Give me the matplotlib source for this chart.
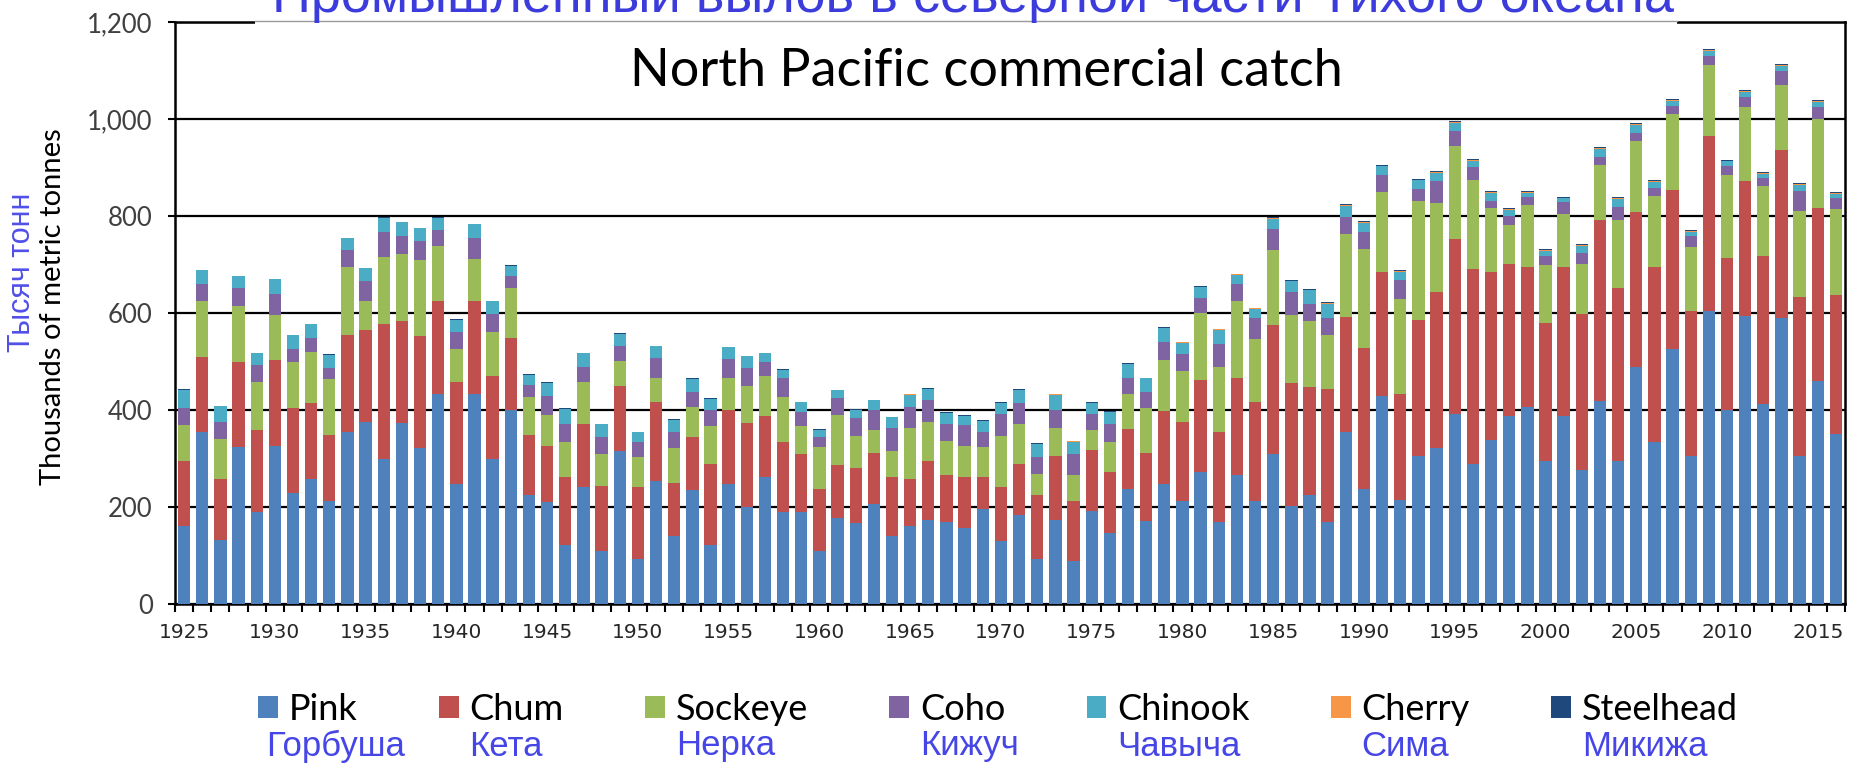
import matplotlib
matplotlib.use("Agg")
import matplotlib.pyplot as plt
from matplotlib.patches import Rectangle
from matplotlib.lines import Line2D
from matplotlib.ticker import FuncFormatter, FixedLocator

years = list(range(1925, 2017))

pink = [160, 355, 132, 323, 190, 326, 229, 258, 213, 355,
        375, 298, 373, 321, 432, 247, 432, 298, 401, 224,
        210, 122, 242, 109, 316, 93, 253, 141, 235, 122,
        247, 201, 261, 190, 190, 109, 178, 167, 206, 141,
        161, 174, 169, 157, 195, 130, 183, 93, 174, 89,
        192, 146, 238, 172, 247, 213, 272, 169, 266, 213,
        310, 203, 224, 169, 355, 238, 429, 214, 305, 322,
        392, 289, 339, 387, 407, 295, 387, 276, 419, 295,
        489, 334, 525, 306, 605, 400, 594, 413, 590, 306,
        459, 350]
chum = [135, 154, 126, 175, 168, 177, 175, 157, 136, 200,
        189, 280, 210, 232, 193, 210, 193, 172, 148, 125,
        116, 139, 130, 134, 134, 148, 164, 108, 109, 167,
        153, 172, 126, 145, 120, 129, 109, 113, 106, 120,
        96, 121, 97, 104, 66, 111, 106, 131, 132, 124,
        126, 126, 122, 140, 151, 162, 189, 186, 199, 204,
        266, 252, 223, 275, 237, 290, 256, 220, 281, 321,
        361, 402, 345, 314, 288, 284, 308, 321, 372, 357,
        320, 361, 329, 299, 360, 314, 279, 305, 346, 327,
        358, 287]
sockeye = [74, 116, 83, 117, 99, 92, 94, 105, 114, 139,
           60, 137, 138, 156, 113, 69, 87, 90, 103, 78,
           64, 74, 85, 67, 51, 62, 49, 72, 63, 78,
           65, 77, 83, 92, 57, 85, 103, 66, 46, 55,
           106, 80, 71, 64, 62, 105, 83, 44, 57, 53,
           40, 63, 72, 92, 105, 105, 139, 134, 160, 130,
           153, 140, 136, 111, 171, 203, 164, 194, 244, 183,
           191, 183, 132, 81, 127, 119, 110, 103, 115, 140,
           145, 146, 156, 131, 146, 171, 151, 143, 135, 177,
           182, 178]
coho = [35, 35, 34, 37, 35, 44, 28, 29, 23, 35,
        42, 52, 37, 40, 33, 34, 43, 37, 25, 25,
        39, 37, 32, 34, 31, 30, 41, 34, 31, 34,
        40, 36, 29, 38, 29, 21, 34, 37, 42, 47,
        44, 45, 35, 44, 32, 45, 43, 35, 37, 44,
        34, 37, 34, 34, 37, 35, 31, 48, 35, 42,
        45, 48, 35, 34, 34, 37, 36, 40, 26, 47,
        32, 28, 14, 19, 17, 20, 24, 23, 16, 26,
        17, 17, 17, 23, 19, 19, 22, 18, 28, 42,
        25, 22]
chinook = [38, 28, 33, 24, 25, 31, 28, 28, 28, 25,
           26, 29, 29, 26, 25, 26, 28, 27, 20, 21,
           27, 31, 28, 27, 25, 21, 24, 25, 26, 22,
           24, 25, 18, 18, 20, 15, 17, 18, 20, 22,
           24, 23, 21, 18, 22, 23, 26, 26, 31, 25,
           22, 23, 28, 27, 29, 24, 22, 28, 19, 20,
           20, 23, 29, 30, 24, 17, 18, 17, 18, 15,
           16, 11, 17, 12, 9, 10, 8, 16, 17, 17,
           16, 13, 11, 9, 10, 9, 9, 8, 11, 12,
           11, 9]
cherry = [0, 0, 0, 0, 0, 0, 0, 0, 0, 0,
          0, 0, 0, 0, 0, 0, 0, 0, 0, 0,
          0, 0, 0, 0, 0, 0, 0, 0, 0, 0,
          0, 0, 0, 0, 0, 0, 0, 0, 0, 0,
          1, 1, 1, 1, 1, 1, 1, 1, 1, 1,
          1, 1, 1, 1, 1, 1, 1, 1, 1, 1,
          1, 1, 1, 1, 1, 2, 1, 2, 1, 2,
          1, 2, 2, 2, 1, 1, 1, 2, 1, 2,
          2, 2, 1, 2, 2, 1, 2, 1, 1, 2,
          2, 2]
steelhead = [1, 1, 1, 1, 1, 1, 1, 1, 1, 1,
             1, 1, 1, 1, 1, 1, 1, 1, 1, 1,
             1, 1, 1, 1, 1, 1, 1, 1, 1, 1,
             1, 1, 1, 1, 1, 1, 1, 1, 1, 1,
             1, 1, 1, 1, 1, 1, 1, 1, 1, 1,
             1, 1, 1, 1, 1, 1, 1, 1, 1, 1,
             2, 2, 2, 2, 2, 2, 2, 2, 2, 2,
             2, 2, 2, 2, 2, 2, 2, 2, 2, 2,
             2, 2, 2, 2, 2, 2, 2, 2, 2, 2,
             2, 2]

series = [pink, chum, sockeye, coho, chinook, cherry, steelhead]
names_en = ["Pink", "Chum", "Sockeye", "Coho", "Chinook", "Cherry", "Steelhead"]
names_ru = ["Горбуша", "Кета", "Нерка", "Кижуч", "Чавыча", "Сима", "Микижа"]
colors = ["#4F81BD", "#C0504D", "#9BBB59", "#8064A2", "#4BACC6", "#F79646", "#1F497D"]

yticks = [0, 200, 400, 600, 800, 1000, 1200]
label_years = list(range(1925, 2017, 5))

W, H = 1852, 765
fig = plt.figure(figsize=(W / 100, H / 100), dpi=100)
ax = fig.add_axes([175 / W, 1 - 604 / H, (1845 - 175) / W, (604 - 22) / H])

x = list(range(len(years)))
bottom = [0] * len(years)
bars = []
for vals, col in zip(series, colors):
    b = ax.bar(x, vals, width=0.68, bottom=bottom, color=col, zorder=3, linewidth=0)
    bars.append(b)
    bottom = [a + v for a, v in zip(bottom, vals)]

ax.set_xlim(-0.5, len(years) - 0.5)
ax.set_ylim(0, 1200)
ax.set_yticks(yticks)
ax.yaxis.set_major_formatter(FuncFormatter(lambda v, p: f"{v:,.0f}"))
ax.grid(axis="y", color="black", linewidth=1.6, zorder=1)

# labels every 5 years, tick marks between categories
ax.set_xticks([years.index(y) for y in label_years])
ax.set_xticklabels([str(y) for y in label_years])
ax.xaxis.set_minor_locator(FixedLocator([i - 0.5 for i in range(len(years) + 1)]))
ax.tick_params(axis="x", which="major", length=0, pad=14, labelsize=14.5, labelcolor="#262626")
ax.tick_params(axis="x", which="minor", length=6, width=1.5, direction="out", color="black")
ax.tick_params(axis="y", length=5, width=1.5, direction="out", pad=11, labelsize=18.5, labelcolor="#404040")
for lab in ax.get_xticklabels():
    lab.set_family(["Liberation Sans Narrow", "DejaVu Sans"])
for lab in ax.get_yticklabels():
    lab.set_family(["Lato", "DejaVu Sans"])
for s in ax.spines.values():
    s.set_linewidth(1.8)
    s.set_color("black")

ax.text(0.486, 1 - (86 - 22) / (604 - 22), "North Pacific commercial catch", transform=ax.transAxes,
        ha="center", va="baseline", fontsize=37.5, family=["Lato", "DejaVu Sans"], color="black")

ax.set_ylabel("Thousands of metric tonnes", fontsize=21, family=["Lato", "DejaVu Sans"], color="black")
ax.yaxis.set_label_coords(-(175 - 66) / (1845 - 175), (604 - 307) / (604 - 22))
fig.text(22 / W, 1 - 272 / H, "Тысяч тонн", rotation=90, ha="center", va="center",
         fontsize=22, family=["Liberation Sans", "DejaVu Sans"], color="#5050E8")

# Russian title, partly cut off at the top edge, over a white box
fig.patches.append(Rectangle((255 / W, 1 - 26 / H), (1677 - 255) / W, 26 / H,
                             transform=fig.transFigure, facecolor="white", edgecolor="none", zorder=5))
fig.lines.append(Line2D([255 / W, 1677 / W], [1 - 21 / H, 1 - 21 / H], transform=fig.transFigure,
                        color="#9a9a9a", linewidth=1, zorder=6))
fig.text(973 / W, 1 - 12 / H, "Промышленный вылов в северной части Тихого океана",
         ha="center", va="baseline", fontsize=39, family=["Liberation Sans", "DejaVu Sans"],
         color="#3C3CDC", zorder=7)

leg = fig.legend([b[0] for b in bars], names_en, ncol=7, loc="center",
                 bbox_to_anchor=(998 / W, 1 - 709 / H), frameon=False,
                 prop={"family": ["Lato", "DejaVu Sans"], "size": 26},
                 handlelength=0.55, handleheight=0.55, handletextpad=0.3,
                 columnspacing=2.25, borderpad=0, borderaxespad=0)

fig.canvas.draw()
renderer = fig.canvas.get_renderer()
for i, (t, ru) in enumerate(zip(leg.get_texts(), names_ru)):
    bb = t.get_window_extent(renderer)
    x0 = bb.x0 - (23 if i == 0 else 0)
    fig.text(x0 / W, 1 - 746 / H, ru, ha="left", va="center", fontsize=25,
             family=["Liberation Sans", "DejaVu Sans"], color="#4646E6")

fig.savefig("out.png", dpi=100)
